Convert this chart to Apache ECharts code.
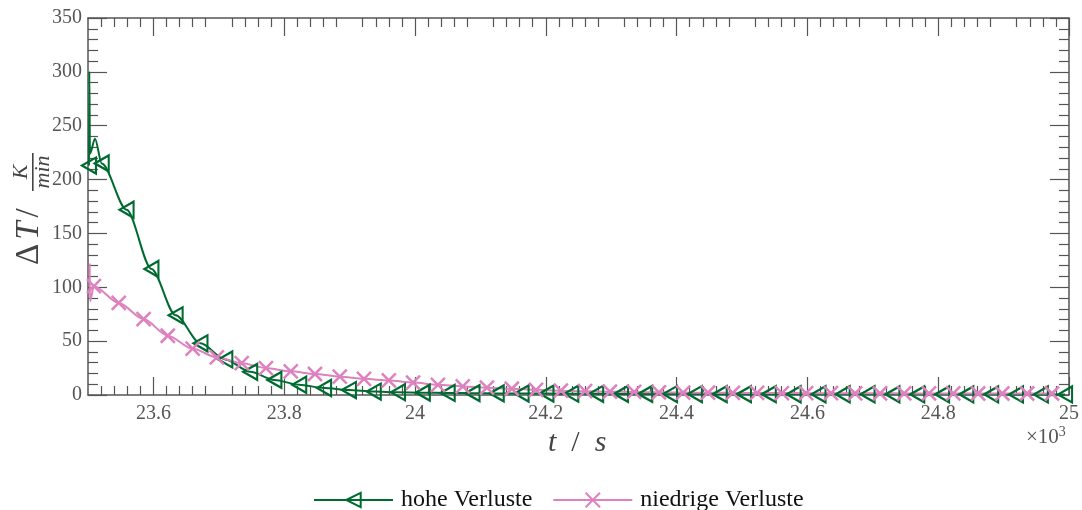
<!DOCTYPE html>
<html>
<head>
<meta charset="utf-8">
<script src="https://cdn.jsdelivr.net/npm/echarts@6/dist/echarts.min.js"></script>
<style>
  html, body { margin: 0; padding: 0; background: #fff; }
  #main { width: 1082px; height: 510px; }
</style>
</head>
<body>
<div id="main"></div>
<script>
// t in 10^3 s, dT in K/min
var hoheT = [23.5015, 23.5020, 23.5030, 23.5107,
  23.521, 23.559, 23.597, 23.634, 23.672, 23.710, 23.748, 23.785, 23.823, 23.861,
  23.899, 23.937, 23.974, 24.012, 24.050, 24.088, 24.125, 24.163, 24.201, 24.239,
  24.277, 24.315, 24.352, 24.390, 24.428, 24.466, 24.503, 24.541, 24.579, 24.617,
  24.654, 24.692, 24.730, 24.768, 24.806, 24.843, 24.881, 24.919, 24.957, 24.994];
var hoheV = [213, 300, 224, 238,
  215, 172, 117, 74, 48, 33, 21.5, 14, 9.5, 6.5,
  4.6, 3.2, 2.6, 2.2, 1.9, 1.7, 1.5, 1.4, 1.3, 1.2,
  1.1, 1.0, 1.0, 0.9, 0.9, 0.8, 0.8, 0.8, 0.7, 0.7,
  0.7, 0.7, 0.6, 0.6, 0.6, 0.6, 0.6, 0.5, 0.5, 0.5];
var hoheOhneMarker = [1, 2, 3];

var niedrigT = [23.5025, 23.5030,
  23.509, 23.547, 23.585, 23.622, 23.660, 23.697, 23.735, 23.772, 23.810, 23.847,
  23.885, 23.922, 23.960, 23.997, 24.035, 24.073, 24.110, 24.148, 24.185, 24.223,
  24.260, 24.298, 24.335, 24.373, 24.410, 24.448, 24.486, 24.523, 24.561, 24.598,
  24.636, 24.673, 24.711, 24.748, 24.786, 24.823, 24.861, 24.898, 24.936, 24.974];
var niedrigV = [122, 87,
  101, 85.5, 70.5, 55, 43, 35, 29.5, 25, 22, 19.5,
  17, 15, 13.5, 11.5, 9.5, 8, 6.8, 5.8, 4.8, 4,
  3.5, 3.1, 2.8, 2.5, 2.3, 2.1, 2.0, 1.9, 1.8, 1.7,
  1.7, 1.6, 1.6, 1.5, 1.5, 1.5, 1.4, 1.4, 1.4, 1.4];
var niedrigOhneMarker = [0, 1];

var xTicks = [23.6, 23.8, 24, 24.2, 24.4, 24.6, 24.8, 25];

var gruen = '#006b30';
var rosa = '#dd82be';
var achse = '#555';
var schrift = 'Liberation Serif';

var baueDaten = function(xs, ys, ohne) {
  var out = [];
  for (var i = 0; i < xs.length; i++) {
    var item = { value: [xs[i], ys[i]] };
    if (ohne.indexOf(i) >= 0) item.symbol = 'none';
    out.push(item);
  }
  return out;
};

var xAchse = function(pos) {
  return {
    type: 'value', position: pos, min: 23.5, max: 25, interval: 0.1,
    axisLine: { show: true, onZero: false, lineStyle: { color: achse, width: 1.5 } },
    axisTick: { show: true, inside: true, length: 18, customValues: xTicks, lineStyle: { color: achse, width: 1.2 } },
    minorTick: { show: true, splitNumber: 5, length: 9, lineStyle: { color: achse, width: 1.2 } },
    axisLabel: {
      show: pos === 'bottom', customValues: xTicks, margin: 9,
      color: achse, fontSize: 20, fontFamily: schrift
    },
    splitLine: { show: false }
  };
};

var yAchse = function(pos) {
  return {
    type: 'value', position: pos, min: 0, max: 350, interval: 50,
    axisLine: { show: true, onZero: false, lineStyle: { color: achse, width: 1.5 } },
    axisTick: { show: true, inside: true, length: 19, lineStyle: { color: achse, width: 1.2 } },
    minorTick: { show: true, splitNumber: 5, length: 10, lineStyle: { color: achse, width: 1.2 } },
    axisLabel: { show: pos === 'left', margin: 6, color: achse, fontSize: 20, fontFamily: schrift },
    splitLine: { show: false }
  };
};

var chart = echarts.init(document.getElementById('main'));
var option = {
  animation: false,
  backgroundColor: '#fff',
  grid: { left: 88, right: 13, top: 18, bottom: 115 },
  xAxis: [xAchse('bottom'), xAchse('top')],
  yAxis: [yAchse('left'), yAchse('right')],
  legend: {
    left: 308, top: 483,
    itemWidth: 79, itemHeight: 18, itemGap: 20,
    textStyle: { color: '#111', fontSize: 24, fontFamily: schrift, padding: [0, 0, 0, 3] },
    data: ['hohe Verluste', 'niedrige Verluste']
  },
  series: [
    {
      name: 'hohe Verluste', type: 'line',
      data: baueDaten(hoheT, hoheV, hoheOhneMarker),
      symbol: 'triangle', symbolRotate: 90, symbolSize: [16, 14],
      showAllSymbol: true, clip: false,
      smooth: 0.3, smoothMonotone: 'x',
      lineStyle: { color: gruen, width: 2 },
      itemStyle: { color: 'rgba(0,0,0,0)', borderColor: gruen, borderWidth: 2.2 }
    },
    {
      name: 'niedrige Verluste', type: 'line',
      data: baueDaten(niedrigT, niedrigV, niedrigOhneMarker),
      symbol: 'path://M0,0L10,10M10,0L0,10', symbolSize: 14,
      showAllSymbol: true, clip: false,
      smooth: 0.3, smoothMonotone: 'x',
      lineStyle: { color: rosa, width: 2 },
      itemStyle: { color: 'rgba(0,0,0,0)', borderColor: rosa, borderWidth: 2.5 }
    }
  ],
  graphic: [
    {
      type: 'group', x: 29, y: 265, rotation: Math.PI / 2,
      children: [
        { type: 'text', x: 0, y: 0, style: {
          text: '{a|\u0394}{b|T}{a|/}', verticalAlign: 'middle', align: 'left',
          rich: {
            a: { fontSize: 33, fontFamily: schrift, fill: '#444', padding: [0, 4, 0, 0] },
            b: { fontSize: 33, fontFamily: schrift, fontStyle: 'italic', fill: '#444', padding: [0, 4, 0, 0] }
          }
        } },
        { type: 'text', x: 93, y: -8, style: {
          text: 'K', fontSize: 22, fontFamily: schrift, fontStyle: 'italic', fill: '#444',
          align: 'center', verticalAlign: 'middle'
        } },
        { type: 'rect', shape: { x: 74, y: 3, width: 38, height: 1.6 }, style: { fill: '#444' } },
        { type: 'text', x: 93, y: 14, style: {
          text: 'min', fontSize: 22, fontFamily: schrift, fontStyle: 'italic', fill: '#444',
          align: 'center', verticalAlign: 'middle'
        } }
      ]
    },
    {
      type: 'text', left: 548, top: 428, style: {
        text: '{b|t}{a|  /  }{b|s}',
        rich: {
          a: { fontSize: 30, fontFamily: schrift, fill: '#444' },
          b: { fontSize: 30, fontFamily: schrift, fontStyle: 'italic', fill: '#444' }
        }
      }
    },
    {
      type: 'text', left: 1026, top: 425, style: {
        text: '{a|\u00d710}{s|3}',
        rich: {
          a: { fontSize: 21, fontFamily: schrift, fill: achse, verticalAlign: 'bottom' },
          s: { fontSize: 14, fontFamily: schrift, fill: achse, verticalAlign: 'top', padding: [0, 0, 9, 0] }
        }
      }
    }
  ]
};
chart.setOption(option);
</script>
</body>
</html>
